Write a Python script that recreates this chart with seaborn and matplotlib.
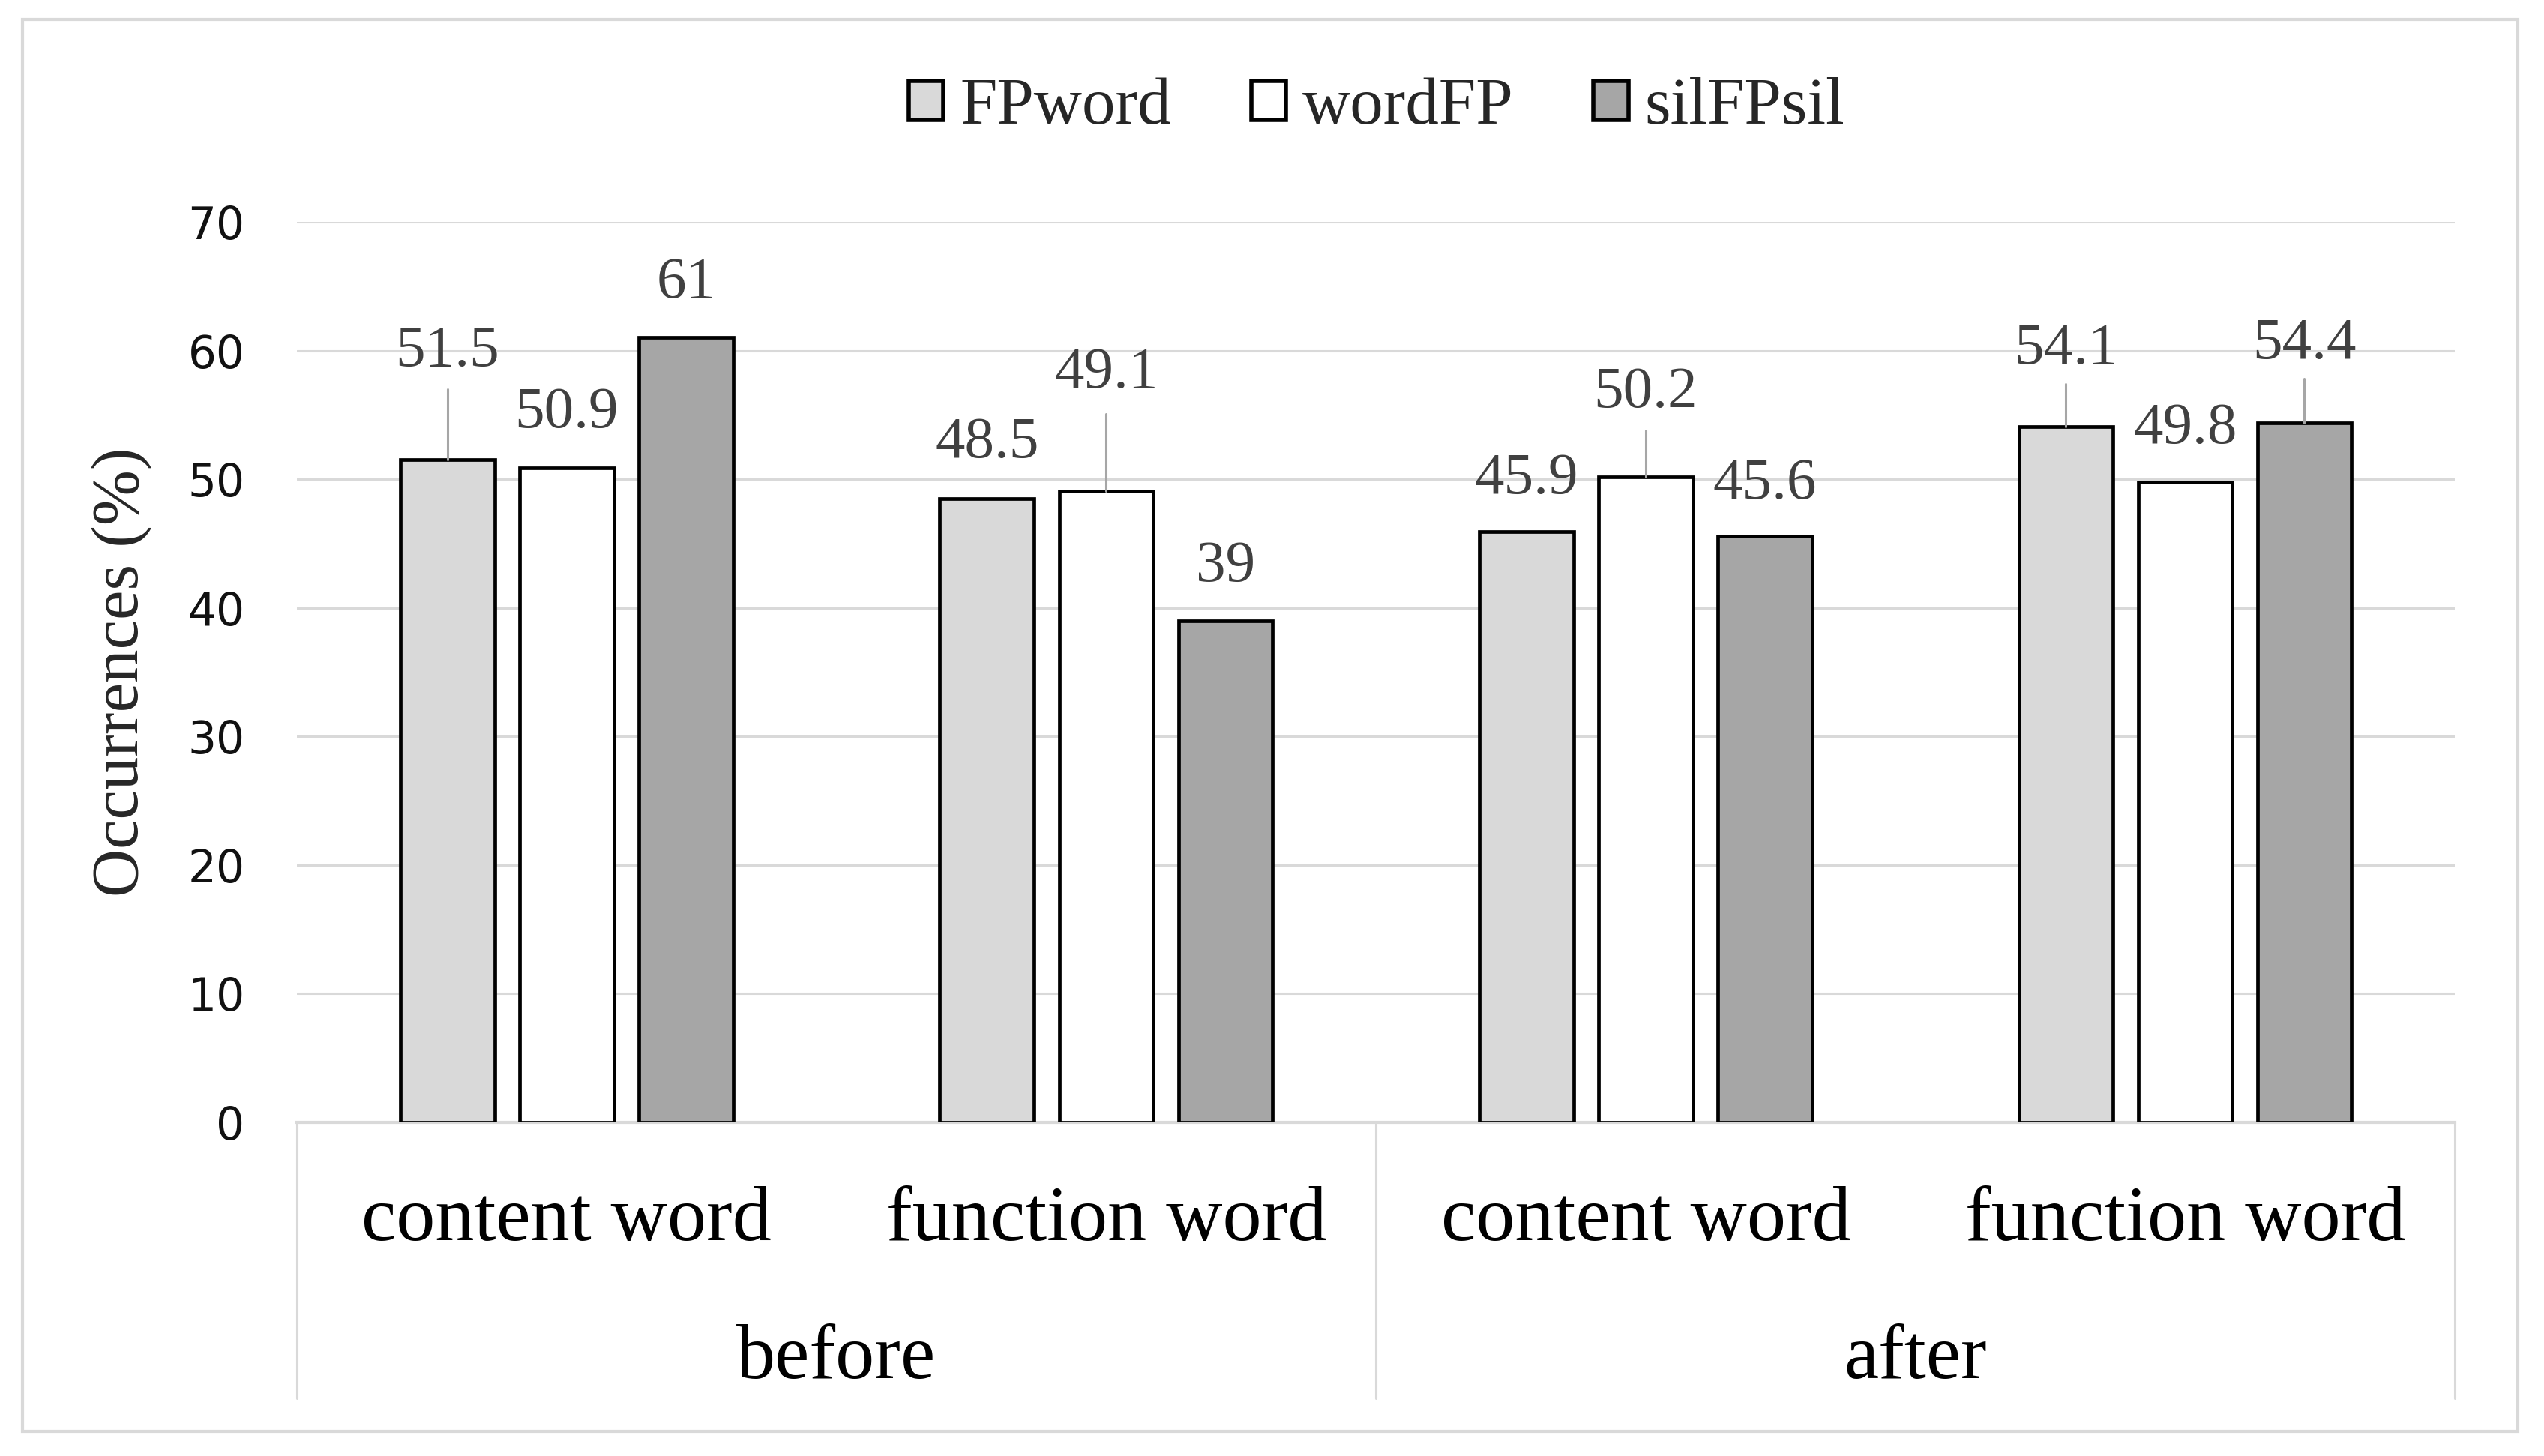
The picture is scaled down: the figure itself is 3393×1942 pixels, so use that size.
import matplotlib
matplotlib.use("Agg")
import matplotlib.pyplot as plt
import seaborn as sns
import pandas as pd
from matplotlib.patches import Rectangle, Patch

# ---- data ----
positions = ["before", "before", "after", "after"]
word_types = ["content word", "function word", "content word", "function word"]
series = ["FPword", "wordFP", "silFPsil"]
fpword = [51.5, 48.5, 45.9, 54.1]
wordfp = [50.9, 49.1, 50.2, 49.8]
silfpsil = [61, 39, 45.6, 54.4]
group_labels = ["before", "after"]
yticks = [0, 10, 20, 30, 40, 50, 60, 70]

# ---- layout (label placement) ----
label_offsets = {"FPword": [8.4, 4.3, 4.1, 6.0],
                 "wordFP": [4.2, 9.1, 6.5, 4.1],
                 "silFPsil": [4.2, 4.2, 4.0, 6.1]}
leader_tops = {"FPword": [5.5, 0, 0, 3.3],
               "wordFP": [0, 6.0, 3.6, 0],
               "silFPsil": [0, 0, 0, 3.4]}

colors = {"FPword": "#d9d9d9", "wordFP": "#ffffff", "silFPsil": "#a6a6a6"}

conds = [f"{p}|{w}" for p, w in zip(positions, word_types)]
rows = []
for name, vals in zip(series, [fpword, wordfp, silfpsil]):
    for c, v in zip(conds, vals):
        rows.append({"cond": c, "series": name, "value": v})
df = pd.DataFrame(rows)

sns.set_theme(style="white")
serif = ["Liberation Serif", "DejaVu Serif"]
plt.rcParams["font.family"] = ["DejaVu Sans"]

fig = plt.figure(figsize=(33.93, 19.42), dpi=100)
ax = fig.add_axes([0.1167, 0.2291, 0.8483, 0.6185])

sns.barplot(data=df, x="cond", y="value", hue="series", order=conds,
            hue_order=series, palette=colors, width=0.663, gap=0.21,
            edgecolor="black", linewidth=3.4, saturation=1, legend=False,
            ax=ax, zorder=3)

ax.set_xlim(-0.5, 3.5)
ax.set_ylim(0, 70)
ax.set_yticks(yticks)
ax.set_yticklabels([str(t) for t in yticks], fontsize=43, color="#111111")
ax.tick_params(axis="y", length=0, pad=50)
ax.set_xticks([])
ax.set_xlabel("")
ax.set_ylabel("Occurrences (%)", fontsize=64, family=serif)
ax.yaxis.label.set_va("center")
ax.yaxis.set_label_coords(-0.081, 0.5)
ax.grid(axis="y", color="#d9d9d9", linewidth=2.2, zorder=0)
ax.set_axisbelow(True)
for s in ["left", "right", "top"]:
    ax.spines[s].set_visible(False)
ax.spines["bottom"].set_color("#d9d9d9")
ax.spines["bottom"].set_linewidth(3)

# data labels and leader lines
for cont, name in zip(ax.containers, series):
    for i, bar in enumerate(cont):
        x = bar.get_x() + bar.get_width() / 2
        h = bar.get_height()
        ax.text(x, h + label_offsets[name][i], f"{h:g}", ha="center", va="center",
                fontsize=57, family=serif, color="#404040", zorder=5)
        if leader_tops[name][i] > 0:
            ax.plot([x, x], [h, h + leader_tops[name][i]], color="#a6a6a6",
                    linewidth=2.2, zorder=4)

# hierarchical category axis
trans = ax.get_xaxis_transform()
for i, w in enumerate(word_types):
    ax.text(i, -0.11, w, transform=trans, ha="center", va="center",
            fontsize=75, family=serif, color="black", clip_on=False)
for j, g in enumerate(group_labels):
    ax.text(2 * j + 0.5, -0.263, g, transform=trans, ha="center", va="center",
            fontsize=75, family=serif, color="black", clip_on=False)
for xs in [-0.5, 1.5, 3.5]:
    ax.plot([xs, xs], [0, -0.306], transform=trans, color="#d9d9d9",
            linewidth=2.2, clip_on=False)

# legend
handles = [Patch(facecolor=colors[s], edgecolor="black", linewidth=4) for s in series]
fig.legend(handles, series, loc="center", bbox_to_anchor=(0.5412, 0.926),
           ncol=3, frameon=False, prop={"family": serif, "size": 64},
           handlelength=0.52, handleheight=0.52, handletextpad=0.25,
           columnspacing=1.2)

# outer border
fig.patches.append(Rectangle((30 / 3393, 1 - 1909 / 1942), (3358 - 30) / 3393,
                             (1909 - 26) / 1942, transform=fig.transFigure,
                             fill=False, edgecolor="#d9d9d9", linewidth=3))

fig.savefig("out.png", dpi=100, facecolor="white")
